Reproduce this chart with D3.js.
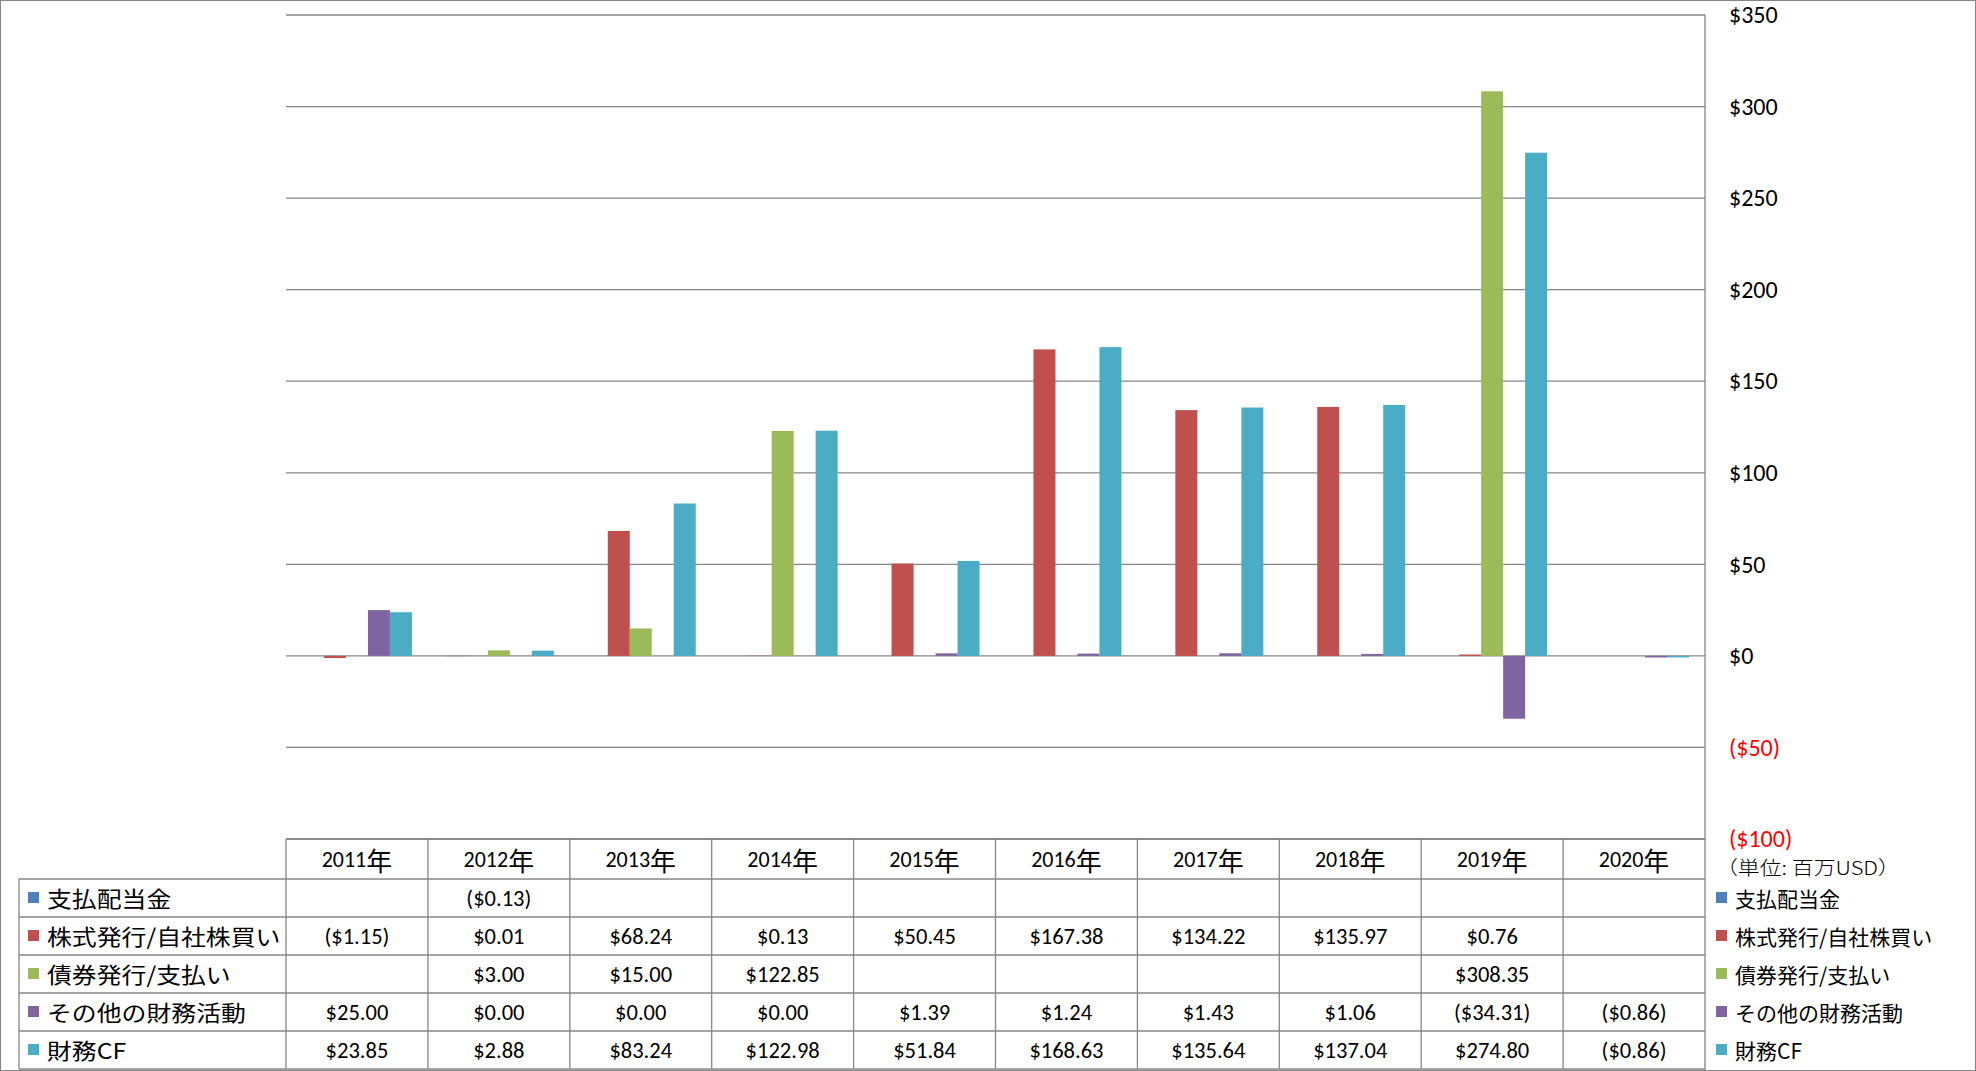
<!DOCTYPE html>
<html><head><meta charset="utf-8">
<script src="https://cdn.jsdelivr.net/npm/d3@7"></script>
<style>body{margin:0;background:#fff}svg{display:block}</style>
</head><body><svg id="c" width="1976" height="1071"></svg>
<script>
const years = ["2011年","2012年","2013年","2014年","2015年","2016年","2017年","2018年","2019年","2020年"];
const seriesNames = ["支払配当金","株式発行/自社株買い","債券発行/支払い","その他の財務活動","財務CF"];
const seriesColors = ["#4F81BD","#C0504D","#9BBB59","#8064A2","#4BACC6"];
const dividends = [null,-0.13,null,null,null,null,null,null,null,null];
const stockIssue = [-1.15,0.01,68.24,0.13,50.45,167.38,134.22,135.97,0.76,null];
const bondIssue = [null,3.00,15.00,122.85,null,null,null,null,308.35,null];
const otherFin = [25.00,0.00,0.00,0.00,1.39,1.24,1.43,1.06,-34.31,-0.86];
const financingCF = [23.85,2.88,83.24,122.98,51.84,168.63,135.64,137.04,274.80,-0.86];
const yTicks = [-100,-50,0,50,100,150,200,250,300,350];
const unitLabel = "（単位: 百万USD）";

const seriesValues = [dividends, stockIssue, bondIssue, otherFin, financingCF];

const W = 1976, H = 1071;
const plotL = 286, plotR = 1705, plotT = 15, plotB = 839;
const rowTop = [839, 879, 917, 955, 993, 1031, 1069];
const tableL = 19;
const numFont = "Carlito, Lato, 'Open Sans', sans-serif";
const jpFont = "'Noto Sans CJK JP', sans-serif";
const gridCol = "#868686";

const svg = d3.select("#c");
svg.append("rect").attr("x",0.5).attr("y",0.5).attr("width",W-1).attr("height",H-1)
  .attr("fill","#fff").attr("stroke","#868686").attr("stroke-width",1);

const x0 = d3.scaleBand().domain(years).range([plotL, plotR]).paddingInner(0.225).paddingOuter(0.1125);
const x1 = d3.scaleBand().domain(seriesNames).range([0, x0.bandwidth()]);
const y = d3.scaleLinear().domain([-100, 350]).range([plotB, plotT]);
const colScale = d3.scaleBand().domain(years).range([plotL, plotR]);
const color = d3.scaleOrdinal().domain(seriesNames).range(seriesColors);

// gridlines
const grid = svg.append("g");
grid.selectAll("line").data(yTicks).join("line")
  .attr("x1", plotL).attr("x2", plotR)
  .attr("y1", d => y(d)).attr("y2", d => y(d))
  .attr("stroke", gridCol).attr("stroke-width", 1.3);

// right axis
const fmtAxis = v => v < 0 ? `($${-v})` : `$${v}`;
const axis = d3.axisRight(y).tickValues(yTicks).tickSize(0).tickPadding(24).tickFormat(fmtAxis);
const ag = svg.append("g").attr("transform", `translate(${plotR},0)`).call(axis);
ag.select(".domain").remove();
ag.selectAll("text").attr("font-family", numFont).attr("font-size", 24)
  .attr("fill", d => d < 0 ? "#FF0000" : "#000");
svg.append("line").attr("x1", plotR).attr("x2", plotR).attr("y1", plotT).attr("y2", H)
  .attr("stroke", gridCol).attr("stroke-width", 1.3);

// bars
const barData = [];
seriesNames.forEach((s, si) => {
  seriesValues[si].forEach((v, yi) => {
    if (v !== null) barData.push({s, year: years[yi], v});
  });
});
svg.append("g").selectAll("rect").data(barData).join("rect")
  .attr("x", d => x0(d.year) + x1(d.s))
  .attr("width", x1.bandwidth())
  .attr("y", d => y(Math.max(0, d.v)))
  .attr("height", d => Math.abs(y(d.v) - y(0)))
  .attr("fill", d => color(d.s));

// table
const tg = svg.append("g");
tg.append("line").attr("x1", plotL).attr("x2", plotR).attr("y1", rowTop[0]).attr("y2", rowTop[0])
  .attr("stroke", gridCol).attr("stroke-width", 1.3);
rowTop.slice(1).forEach(ry => {
  tg.append("line").attr("x1", tableL).attr("x2", plotR).attr("y1", ry).attr("y2", ry)
    .attr("stroke", gridCol).attr("stroke-width", 1.3);
});
years.map(yv => colScale(yv)).forEach(cx => {
  tg.append("line").attr("x1", cx).attr("x2", cx).attr("y1", rowTop[0]).attr("y2", rowTop[6])
    .attr("stroke", gridCol).attr("stroke-width", 1.3);
});
tg.append("line").attr("x1", tableL).attr("x2", tableL).attr("y1", rowTop[1]).attr("y2", rowTop[6])
  .attr("stroke", gridCol).attr("stroke-width", 1.3);

// header labels
tg.selectAll("text.hdr").data(years).join("text").attr("class","hdr")
  .attr("x", d => colScale(d) + colScale.bandwidth()/2)
  .attr("y", (rowTop[0] + rowTop[1]) / 2)
  .attr("text-anchor", "middle").attr("dominant-baseline", "central")
  .attr("font-family", numFont).attr("font-size", 22).attr("fill", "#000")
  .each(function(d){
    const t = d3.select(this);
    t.append("tspan").text(d.replace("年",""));
    t.append("tspan").attr("font-family", jpFont).attr("font-size", 26).text("年");
  });

const fmtVal = v => v === null ? "" : (v < 0 ? `($${(-v).toFixed(2)})` : `$${v.toFixed(2)}`);

seriesNames.forEach((s, si) => {
  const cy = (rowTop[si+1] + rowTop[si+2]) / 2;
  tg.append("rect").attr("x", 28).attr("y", cy - 6).attr("width", 11).attr("height", 11).attr("fill", color(s));
  tg.append("text").attr("transform", `translate(47,${cy}) scale(1.13,1)`).attr("dominant-baseline", "central")
    .attr("font-family", jpFont).attr("font-size", 22).attr("fill", "#000").text(s);
  tg.selectAll(null).data(seriesValues[si].map((v, i) => ({v, year: years[i]}))).join("text")
    .attr("x", d => colScale(d.year) + colScale.bandwidth()/2)
    .attr("y", cy)
    .attr("text-anchor", "middle").attr("dominant-baseline", "central")
    .attr("font-family", numFont).attr("font-size", 22.5).attr("fill", "#000")
    .text(d => fmtVal(d.v));
  tg.append("rect").attr("x", 1716).attr("y", cy - 6).attr("width", 11).attr("height", 11).attr("fill", color(s));
  tg.append("text").attr("x", 1735).attr("y", cy).attr("dominant-baseline", "central")
    .attr("font-family", jpFont).attr("font-size", 21).attr("fill", "#000").text(s);
});

svg.append("text").attr("transform", "translate(1716,867) scale(1.15,1)").attr("dominant-baseline", "central")
  .attr("font-family", jpFont).attr("font-size", 19).attr("font-weight", 300).attr("fill", "#000")
  .text(unitLabel);
</script>
</body></html>
